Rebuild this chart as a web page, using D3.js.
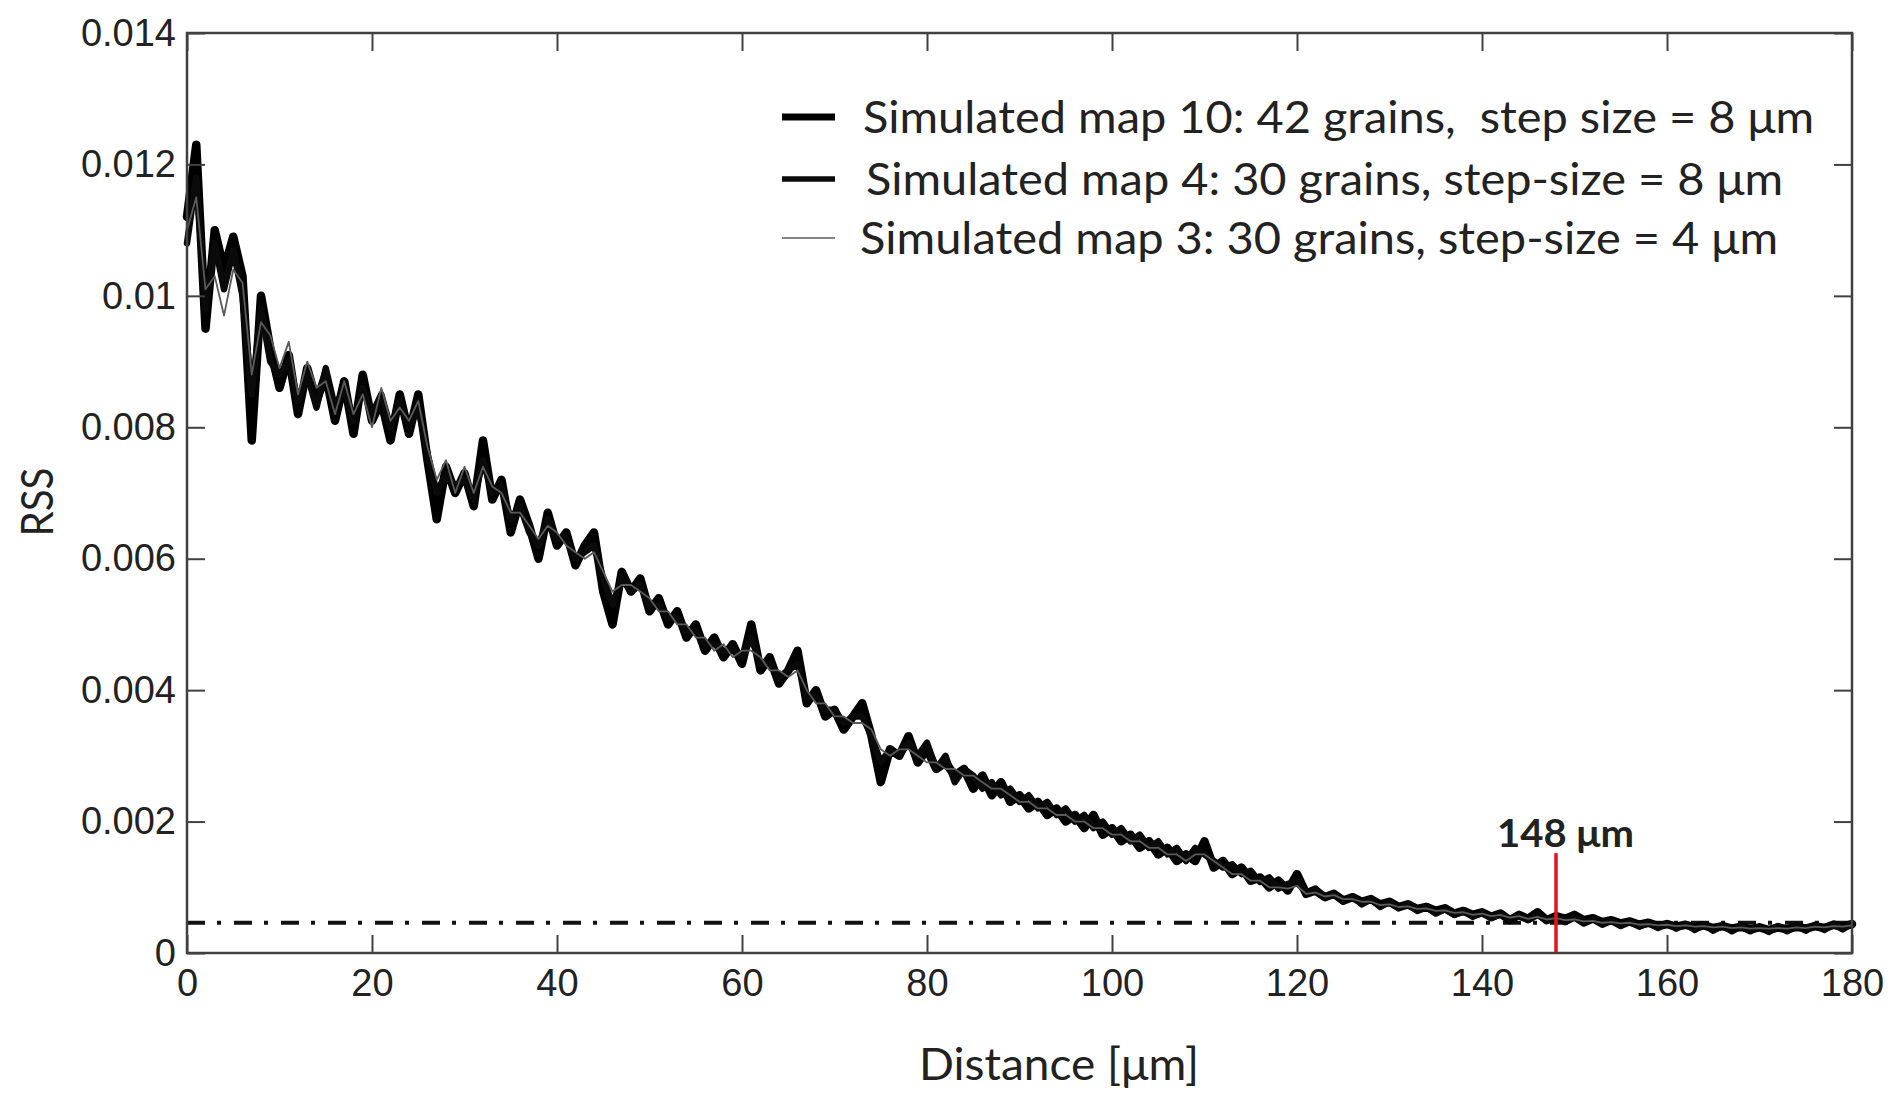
<!DOCTYPE html>
<html>
<head>
<meta charset="utf-8">
<script src="https://cdn.jsdelivr.net/npm/d3@7"></script>
<style>
  html, body { margin: 0; padding: 0; background: #fff; }
  svg { display: block; }
  .tick-label { font-family: "Liberation Sans", Arial, sans-serif; font-size: 38px; fill: #222; }
  .cal { font-family: Lato, "Open Sans", sans-serif; fill: #222; white-space: pre; }
</style>
</head>
<body>
<div id="chart"></div>
<script>
// RSS vs distance, three simulated maps (1 um spacing from 0 to 180)
const distanceStep = 1;

const map10 = [
  0.0112, 0.0123, 0.0095, 0.0110, 0.0104, 0.0109, 0.0103, 0.0078, 0.0100, 0.0092,
  0.0086, 0.0091, 0.0082, 0.0089, 0.0084, 0.0088, 0.0081, 0.0087, 0.0079, 0.0088,
  0.0081, 0.0084, 0.0078, 0.0085, 0.0079, 0.0085, 0.0075, 0.0066, 0.0074, 0.0070,
  0.0073, 0.0068, 0.0078, 0.0069, 0.0072, 0.0064, 0.0069, 0.0065, 0.0060, 0.0067,
  0.0062, 0.0064, 0.0059, 0.0062, 0.0064, 0.0055, 0.0050, 0.0058, 0.0055, 0.0057,
  0.0052, 0.0054, 0.0050, 0.0052, 0.0048, 0.0050, 0.0046, 0.0048, 0.0045, 0.0047,
  0.0044, 0.0050, 0.0043, 0.0045, 0.0041, 0.0043, 0.0046, 0.0038, 0.0040, 0.0036,
  0.0037, 0.0034, 0.0036, 0.0038, 0.0033, 0.0026, 0.0031, 0.0030, 0.0033, 0.0029,
  0.0031, 0.0028, 0.0029, 0.0027, 0.0028, 0.0025, 0.0027, 0.0024, 0.0026, 0.0023,
  0.0024, 0.0022, 0.0023, 0.0021, 0.0022, 0.0020, 0.0021, 0.0019, 0.0021, 0.0018,
  0.0019, 0.0017, 0.0018, 0.0016, 0.0017, 0.0015, 0.0016, 0.0014, 0.0015, 0.0014,
  0.0017, 0.0013, 0.0014, 0.0012, 0.0013, 0.0011, 0.00115, 0.0010, 0.0011, 0.00095,
  0.0012, 0.0009, 0.00095, 0.00085, 0.0009, 0.0008, 0.00085, 0.00078, 0.00082, 0.00074,
  0.00078, 0.0007, 0.00074, 0.00067, 0.0007, 0.00064, 0.00068, 0.0006, 0.00064, 0.00058,
  0.00062, 0.00055, 0.0006, 0.0005, 0.00058, 0.00052, 0.00062, 0.0005, 0.00056, 0.00052,
  0.00058, 0.0005, 0.00053, 0.00047, 0.0005, 0.00045, 0.00048, 0.00043, 0.00046, 0.00041,
  0.00044, 0.0004, 0.00043, 0.00039, 0.00042, 0.00038, 0.00041, 0.00037, 0.0004, 0.00036,
  0.00039, 0.00035, 0.00039, 0.00036, 0.0004, 0.00037, 0.00041, 0.00038, 0.00043, 0.0004,
  0.00044
];

const map4 = [
  0.0108, 0.0118, 0.0098, 0.0108, 0.0101, 0.0107, 0.0100, 0.0085, 0.0098, 0.0090,
  0.0088, 0.0090, 0.0084, 0.0088, 0.0083, 0.0089, 0.0083, 0.0086, 0.0081, 0.0086,
  0.0082, 0.0085, 0.0080, 0.0084, 0.0080, 0.0083, 0.0076, 0.0070, 0.0073, 0.0071,
  0.0072, 0.0069, 0.0075, 0.0070, 0.0071, 0.0066, 0.0068, 0.0064, 0.0062, 0.0066,
  0.0063, 0.0063, 0.0060, 0.0061, 0.0062, 0.0057, 0.0053, 0.0057, 0.0055, 0.0056,
  0.0053, 0.0053, 0.0051, 0.0051, 0.0049, 0.0049, 0.0047, 0.0047, 0.0046, 0.0046,
  0.0045, 0.0048, 0.0044, 0.0044, 0.0042, 0.0043, 0.0044, 0.0039, 0.0039, 0.0037,
  0.0037, 0.0035, 0.0036, 0.0036, 0.0033, 0.0029, 0.0031, 0.0030, 0.0032, 0.0030,
  0.0032, 0.0028, 0.0030, 0.0026, 0.0028, 0.0027, 0.0025, 0.0026, 0.0024, 0.0025,
  0.0023, 0.0024, 0.0022, 0.0023, 0.0021, 0.0022, 0.0020, 0.0021, 0.0019, 0.0020,
  0.0018, 0.0019, 0.0017, 0.0018, 0.0016, 0.0017, 0.0015, 0.0016, 0.0014, 0.0016,
  0.0015, 0.0014, 0.0013, 0.00135, 0.0012, 0.00125, 0.00108, 0.00115, 0.00098, 0.00105,
  0.00108, 0.00092, 0.00098, 0.00084, 0.0009, 0.00078, 0.00086, 0.00074, 0.00082, 0.0007,
  0.00078, 0.00068, 0.00074, 0.00064, 0.0007, 0.0006, 0.00067, 0.00058, 0.00064, 0.00055,
  0.00061, 0.00053, 0.00059, 0.00052, 0.00056, 0.0005, 0.00058, 0.00049, 0.00055, 0.00047,
  0.00054, 0.00045, 0.00051, 0.00043, 0.00049, 0.00041, 0.00047, 0.0004, 0.00046, 0.00038,
  0.00045, 0.00037, 0.00044, 0.00035, 0.00043, 0.00034, 0.00042, 0.00033, 0.00041, 0.00033,
  0.0004, 0.00032, 0.00041, 0.00033, 0.00042, 0.00034, 0.00043, 0.00035, 0.00044, 0.00036,
  0.00045
];

const map3 = [
  0.0110, 0.0115, 0.0101, 0.0103, 0.0097, 0.0104, 0.0102, 0.0088, 0.0096, 0.0094,
  0.0089, 0.0093, 0.0085, 0.0090, 0.0086, 0.0087, 0.0082, 0.0087, 0.0082, 0.0085,
  0.0080, 0.0086, 0.0081, 0.0083, 0.0081, 0.0084, 0.0077, 0.0072, 0.0075, 0.0070,
  0.0074, 0.0070, 0.0074, 0.0071, 0.0070, 0.0067, 0.0067, 0.0065, 0.0063, 0.0065,
  0.0064, 0.0062, 0.0061, 0.0060, 0.0061, 0.0058, 0.0055, 0.0056, 0.0056, 0.0055,
  0.0054, 0.0052, 0.0052, 0.0050, 0.0050, 0.0048, 0.0048, 0.0046, 0.0047, 0.0045,
  0.0046, 0.0046, 0.0045, 0.0043, 0.0043, 0.0042, 0.0043, 0.0040, 0.0038, 0.0038,
  0.0036, 0.0036, 0.0035, 0.0035, 0.0034, 0.0031, 0.0030, 0.0031, 0.0031, 0.0030,
  0.0029, 0.0029, 0.0028, 0.0028, 0.0027, 0.0027, 0.0026, 0.0025, 0.0025, 0.0024,
  0.0023, 0.0023, 0.0022, 0.0022, 0.0021, 0.0021, 0.0020, 0.0020, 0.0019, 0.0019,
  0.0018, 0.0018, 0.0017, 0.0017, 0.0016, 0.0016, 0.0015, 0.0015, 0.0014, 0.0015,
  0.0015, 0.0014, 0.0013, 0.0012, 0.0012, 0.0011, 0.0011, 0.0010, 0.0010, 0.00098,
  0.00102, 0.0009, 0.00092, 0.00086, 0.00088, 0.00082, 0.00082, 0.00078, 0.00078, 0.00073,
  0.00074, 0.0007, 0.00071, 0.00067, 0.00068, 0.00064, 0.00065, 0.00061, 0.00062, 0.00058,
  0.0006, 0.00056, 0.00058, 0.00054, 0.00056, 0.00052, 0.00055, 0.00051, 0.00053, 0.0005,
  0.00051, 0.00048, 0.00049, 0.00046, 0.00047, 0.00045, 0.00046, 0.00043, 0.00044, 0.00042,
  0.00043, 0.00041, 0.00042, 0.0004, 0.00041, 0.00039, 0.0004, 0.00038, 0.00039, 0.00037,
  0.00038, 0.00037, 0.00038, 0.00037, 0.00039, 0.00038, 0.0004, 0.00039, 0.00041, 0.0004,
  0.00042
];

const seriesNames = [
  "Simulated map 10: 42 grains,  step size = 8 \u03bcm",
  "Simulated map 4: 30 grains, step-size = 8 \u03bcm",
  "Simulated map 3: 30 grains, step-size = 4 \u03bcm"
];

const xTicks = [0, 20, 40, 60, 80, 100, 120, 140, 160, 180];
const yTicks = [0, 0.002, 0.004, 0.006, 0.008, 0.01, 0.012, 0.014];
const yTickLabels = ["0", "0.002", "0.004", "0.006", "0.008", "0.01", "0.012", "0.014"];

const thresholdRSS = 0.00046;   // dash-dot level
const cutoffDistance = 148;     // red marker
const cutoffTop = 0.00152;

// ---- layout ----
const width = 1892, height = 1094;
const margin = { top: 33, right: 40, bottom: 141, left: 187 };
const innerW = width - margin.left - margin.right;
const innerH = height - margin.top - margin.bottom;
const tickLen = 18;

const svg = d3.select("#chart").append("svg")
    .attr("width", width)
    .attr("height", height);

const g = svg.append("g")
    .attr("transform", `translate(${margin.left},${margin.top})`);

const x = d3.scaleLinear().domain([0, 180]).range([0, innerW]);
const y = d3.scaleLinear().domain([0, 0.014]).range([innerH, 0]);

// dash-dot threshold line (behind the data)
g.append("line")
    .attr("x1", x(0)).attr("x2", x(180))
    .attr("y1", y(thresholdRSS)).attr("y2", y(thresholdRSS))
    .attr("stroke", "#111")
    .attr("stroke-width", 4)
    .attr("stroke-dasharray", "18,12,4,13");

// data lines
const line = d3.line()
    .x((d, i) => x(i * distanceStep))
    .y(d => y(d));

const series = [
    { values: map10, color: "#000", width: 8.5 },
    { values: map4, color: "#0a0a0a", width: 6.5 },
    { values: map3, color: "#5a5a5a", width: 1.8 }
];

g.append("g").selectAll("path")
    .data(series)
    .join("path")
    .attr("d", d => line(d.values))
    .attr("fill", "none")
    .attr("stroke", d => d.color)
    .attr("stroke-width", d => d.width)
    .attr("stroke-linejoin", "round")
    .attr("stroke-linecap", "round");

// red cutoff marker
g.append("line")
    .attr("x1", x(cutoffDistance)).attr("x2", x(cutoffDistance))
    .attr("y1", y(cutoffTop)).attr("y2", y(0))
    .attr("stroke", "#e4141b")
    .attr("stroke-width", 3.5);

g.append("text")
    .attr("class", "cal")
    .attr("x", x(cutoffDistance) - 59)
    .attr("y", y(cutoffTop) - 6)
    .attr("font-size", 38)
    .attr("font-weight", "bold")
    .attr("textLength", 137)
    .attr("lengthAdjust", "spacingAndGlyphs")
    .text(cutoffDistance + " \u03bcm");

// axes box with inward ticks on all four sides
const box = g.append("g").attr("fill", "none").attr("stroke", "#404040").attr("stroke-width", 2.5);
box.append("rect").attr("x", 0).attr("y", 0).attr("width", innerW).attr("height", innerH);

const xAxisBottom = d3.axisBottom(x).tickValues(xTicks).tickSize(-tickLen).tickFormat(d => d).tickPadding(16);
const xAxisTop = d3.axisTop(x).tickValues(xTicks).tickSize(-tickLen).tickFormat("");
const yAxisLeft = d3.axisLeft(y).tickValues(yTicks).tickSize(-tickLen)
    .tickFormat((d, i) => yTickLabels[i]).tickPadding(11);
const yAxisRight = d3.axisRight(y).tickValues(yTicks).tickSize(-tickLen).tickFormat("");

function styleAxis(sel) {
    sel.select(".domain").remove();
    sel.selectAll(".tick line").attr("stroke", "#404040").attr("stroke-width", 2);
    sel.selectAll(".tick text").attr("class", "tick-label").attr("fill", "#222");
}

g.append("g").attr("transform", `translate(0,${innerH})`).call(xAxisBottom).call(styleAxis)
    .selectAll(".tick text").attr("dy", "0.71em");
g.append("g").call(xAxisTop).call(styleAxis);
g.append("g").call(yAxisLeft).call(styleAxis);
g.append("g").attr("transform", `translate(${innerW},0)`).call(yAxisRight).call(styleAxis);

// axis titles
svg.append("text")
    .attr("class", "cal")
    .attr("x", 1059)
    .attr("y", 1080)
    .attr("text-anchor", "middle")
    .attr("font-size", 44)
    .attr("textLength", 280)
    .attr("lengthAdjust", "spacingAndGlyphs")
    .text("Distance [\u03bcm]");

svg.append("text")
    .attr("class", "cal")
    .attr("transform", "translate(53,502) rotate(-90)")
    .attr("text-anchor", "middle")
    .attr("font-size", 44)
    .attr("textLength", 69)
    .attr("lengthAdjust", "spacingAndGlyphs")
    .text("RSS");

// legend (no frame)
const legendRows = [
    { name: seriesNames[0], baseline: 133, textX: 863, textW: 951, sw: 7, color: "#000" },
    { name: seriesNames[1], baseline: 195, textX: 866, textW: 917, sw: 5.5, color: "#0a0a0a" },
    { name: seriesNames[2], baseline: 254, textX: 860, textW: 918, sw: 1.6, color: "#5a5a5a" }
];

const legend = svg.append("g").attr("class", "legend");
const rows = legend.selectAll("g").data(legendRows).join("g");

rows.append("line")
    .attr("x1", 782).attr("x2", 835)
    .attr("y1", d => d.baseline - 16).attr("y2", d => d.baseline - 16)
    .attr("stroke", d => d.color)
    .attr("stroke-width", d => d.sw);

rows.append("text")
    .attr("class", "cal")
    .attr("x", d => d.textX)
    .attr("y", d => d.baseline)
    .attr("font-size", 44)
    .attr("textLength", d => d.textW)
    .attr("lengthAdjust", "spacingAndGlyphs")
    .text(d => d.name);
</script>
</body>
</html>
